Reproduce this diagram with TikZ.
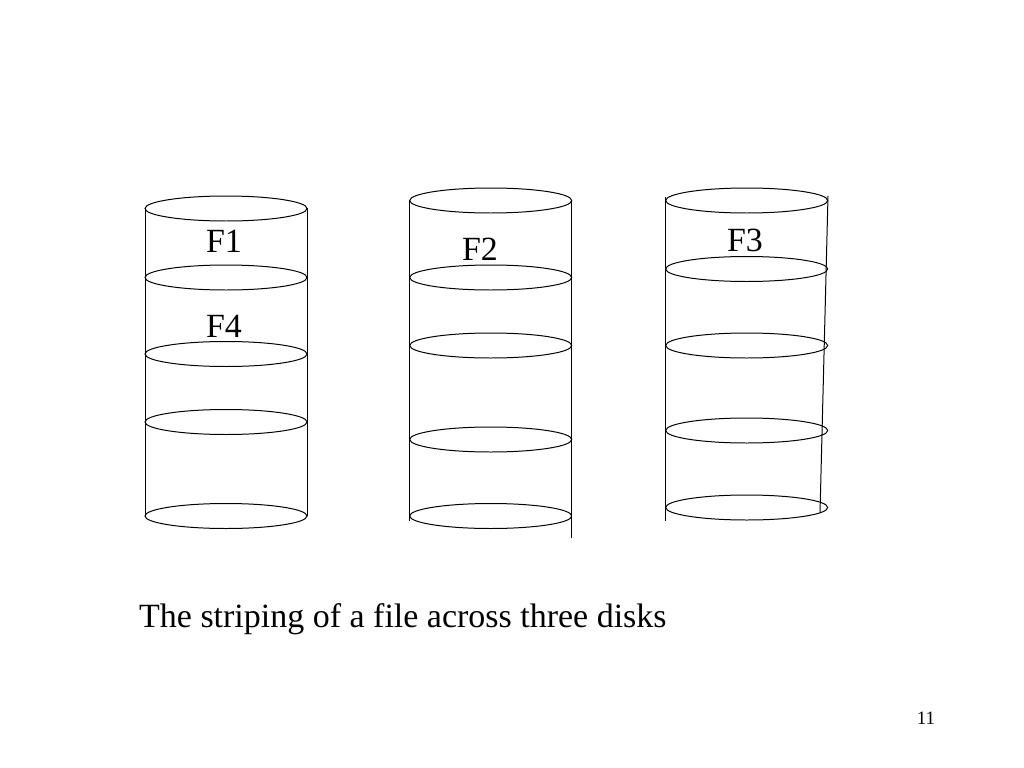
\documentclass[tikz,border=0pt]{standalone}
\usepackage{fontspec}
\setmainfont{Liberation Serif}
\tikzset{
  wall/.style={draw=black,line width=1pt},
  lab/.style={inner sep=0pt,font=\fontsize{34}{38}\selectfont,text=black,anchor=base},
  caption/.style={inner sep=0pt,anchor=base west,font=\fontsize{34.1}{38}\selectfont,text=black},
  pagenum/.style={inner sep=0pt,anchor=base,font=\fontsize{19}{22}\selectfont,text=black}
}
\begin{document}
\begin{tikzpicture}[x=1bp,y=-1bp]
\useasboundingbox (0,0) rectangle (1024,768);
\coordinate (a1) at (145,208); \coordinate (a2) at (145,516);
\coordinate (b1) at (307,208); \coordinate (b2) at (307,516);
\coordinate (c1) at (409.5,200); \coordinate (c2) at (409.5,521);
\coordinate (d1) at (571.7,200); \coordinate (d2) at (571.7,538);
\coordinate (e1) at (665.5,197); \coordinate (e2) at (665.5,521);
\coordinate (f1) at (828,196); \coordinate (f2) at (820,513);
\draw[wall] (a1)--(a2); \draw[wall] (b1)--(b2);
\draw[wall] (c1)--(c2); \draw[wall] (d1)--(d2);
\draw[wall] (e1)--(e2); \draw[wall] (f1)--(f2);
\foreach \x/\y in {226/208.5,226/277.5,226/354,226/422,226/516,
  490.7/200.5,490.7/277.5,490.7/345.5,490.7/439.5,490.7/516,
  746.7/200.5,746.7/269,746.7/345.5,746.7/430.5,746.7/507.5}
  \draw[wall] (\x,\y) ellipse [x radius=81, y radius=12.5];
\node[lab] (f1t) at (224,252) {F1};
\node[lab] (f4t) at (224,337) {F4};
\node[lab] (f2t) at (480,260) {F2};
\node[lab] (f3t) at (745,251) {F3};
\node[caption] (capt) at (139,627) {The striping of a file across three disks};
\node[pagenum] (num) at (926,724) {11};
\end{tikzpicture}
\end{document}
